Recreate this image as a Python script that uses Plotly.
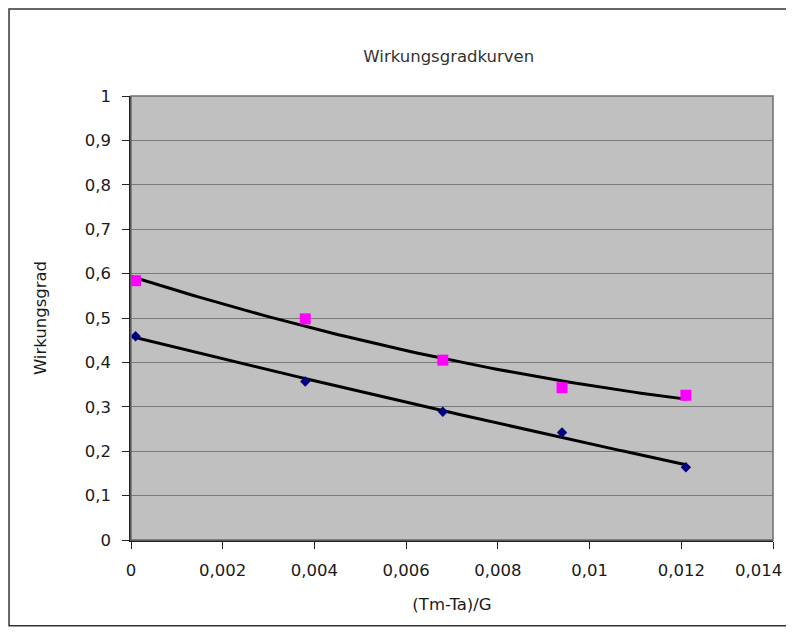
import numpy as np
import plotly.graph_objects as go

# Data
x_vals = [0.0001, 0.0038, 0.0068, 0.0094, 0.0121]
eff_upper = [0.584, 0.498, 0.405, 0.343, 0.326]
eff_lower = [0.459, 0.357, 0.289, 0.242, 0.164]

x_ticks = [0, 0.002, 0.004, 0.006, 0.008, 0.01, 0.012, 0.014]
x_ticktext = ["0", "0,002", "0,004", "0,006", "0,008", "0,01", "0,012", "0,014"]
y_ticks = [0, 0.1, 0.2, 0.3, 0.4, 0.5, 0.6, 0.7, 0.8, 0.9, 1]
y_ticktext = ["0", "0,1", "0,2", "0,3", "0,4", "0,5", "0,6", "0,7", "0,8", "0,9", "1"]

# polynomial (order 2) trendlines, as in the original spreadsheet chart
xf = np.linspace(0, max(x_vals), 100)
fit_u = np.polyval(np.polyfit(x_vals, eff_upper, 2), xf)
fit_l = np.polyval(np.polyfit(x_vals, eff_lower, 2), xf)

FONT = "DejaVu Sans, Verdana, sans-serif"

fig = go.Figure()
fig.add_trace(go.Scatter(x=xf, y=fit_u, mode="lines",
                         line=dict(color="black", width=3), showlegend=False))
fig.add_trace(go.Scatter(x=xf, y=fit_l, mode="lines",
                         line=dict(color="black", width=3), showlegend=False))
fig.add_trace(go.Scatter(x=x_vals, y=eff_upper, mode="markers",
                         marker=dict(symbol="square", size=11, color="#FF00FF"),
                         showlegend=False, cliponaxis=False))
fig.add_trace(go.Scatter(x=x_vals, y=eff_lower, mode="markers",
                         marker=dict(symbol="diamond", size=8, color="#000080"),
                         showlegend=False, cliponaxis=False))

fig.update_layout(
    width=786, height=619,
    margin=dict(l=123, r=21, t=88, b=87, autoexpand=False),
    paper_bgcolor="white",
    plot_bgcolor="#C0C0C0",
    font=dict(family=FONT, size=16.5, color="#1a1a1a"),
    title=dict(text="Wirkungsgradkurven", x=0.495, xref="paper", xanchor="center",
               y=1.0 - 48 / 619, yanchor="middle", font=dict(size=16.5, color="#333333")),
    separators=",.",
)
# the last tick label sits at the right edge; draw it as an annotation so it stays visible
fig.update_xaxes(range=[0, 0.014], tickvals=x_ticks,
                 ticktext=x_ticktext[:-1] + [""],
                 showgrid=False, zeroline=False, automargin=False,
                 showline=True, linecolor="#222", linewidth=1.5,
                 ticks="outside", ticklen=7, tickcolor="#222",
                 ticklabelstandoff=7,
                 title=dict(text="(Tm-Ta)/G", standoff=20, font=dict(size=16.5)))
fig.add_annotation(x=x_ticks[-1], xref="x", y=0, yref="paper",
                   text=x_ticktext[-1], showarrow=False,
                   xanchor="right", xshift=11, yanchor="middle", yshift=-30,
                   font=dict(size=16.5, color="#1a1a1a"))
fig.update_yaxes(range=[0, 1], tickvals=y_ticks, ticktext=y_ticktext,
                 showgrid=True, gridcolor="#7A7A7A", gridwidth=1, zeroline=False,
                 automargin=False,
                 showline=True, linecolor="#222", linewidth=1.5,
                 ticks="outside", ticklen=7, tickcolor="#222",
                 ticklabelstandoff=8,
                 title=dict(text="Wirkungsgrad", standoff=34, font=dict(size=16.5)))

# plot-area border and outer chart frame
fig.add_shape(type="rect", xref="paper", yref="paper", x0=0, y0=0, x1=1, y1=1,
              line=dict(color="#6E6E6E", width=1.5), layer="above")
fig.add_shape(type="rect", xref="paper", yref="paper",
              x0=-0.19, y0=-0.193, x1=1.06, y1=1.196,
              line=dict(color="#333", width=1.5))

fig.write_html("out.html")
